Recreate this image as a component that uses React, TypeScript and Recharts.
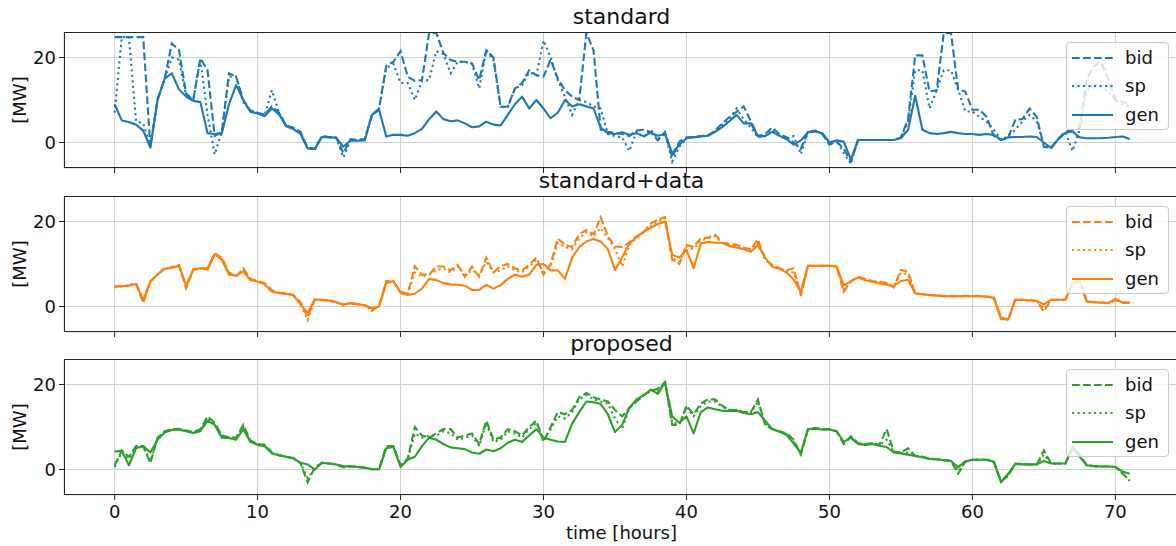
import { LineChart, Line, XAxis, YAxis, CartesianGrid } from 'recharts';

// time axis [hours], sampled every half hour
const hours = [
  0, 0.5, 1, 1.5, 2, 2.5, 3, 3.5, 4, 4.5, 5, 5.5, 6, 6.5, 7, 7.5, 8, 8.5, 9, 9.5,
  10, 10.5, 11, 11.5, 12, 12.5, 13, 13.5, 14, 14.5, 15, 15.5, 16, 16.5, 17, 17.5, 18, 18.5, 19, 19.5,
  20, 20.5, 21, 21.5, 22, 22.5, 23, 23.5, 24, 24.5, 25, 25.5, 26, 26.5, 27, 27.5, 28, 28.5, 29, 29.5,
  30, 30.5, 31, 31.5, 32, 32.5, 33, 33.5, 34, 34.5, 35, 35.5, 36, 36.5, 37, 37.5, 38, 38.5, 39, 39.5,
  40, 40.5, 41, 41.5, 42, 42.5, 43, 43.5, 44, 44.5, 45, 45.5, 46, 46.5, 47, 47.5, 48, 48.5, 49, 49.5,
  50, 50.5, 51, 51.5, 52, 52.5, 53, 53.5, 54, 54.5, 55, 55.5, 56, 56.5, 57, 57.5, 58, 58.5, 59, 59.5,
  60, 60.5, 61, 61.5, 62, 62.5, 63, 63.5, 64, 64.5, 65, 65.5, 66, 66.5, 67, 67.5, 68, 68.5, 69, 69.5,
  70, 70.5, 71,
];

// standard
const stdBid = [
  24.8, 24.8, 24.8, 24.8, 24.8, -1, 10, 15, 23.3, 21.8,
  11.5, 10, 19.8, 17, 1.5, 2.5, 16.3, 15.5, 10, 7.5,
  7, 6.5, 8.5, 7, 4, 3.5, 2.5, -1.2, -1.5, 1.5,
  1.3, 1.2, -2.5, 0.8, 0.6, 0.8, 6.5, 8, 18, 19,
  21.5, 15.5, 14.5, 14.7, 25.8, 25.8, 21, 19.4, 19, 19,
  18.6, 14.7, 21.7, 20, 8.4, 8.4, 12.7, 14, 17, 15.8,
  15.5, 19.5, 15, 12.3, 10.8, 10, 25.8, 21.7, 3, 2.5,
  2.2, 2, 1.5, 2.8, 3, 2.5, 0.5, 2.5, -3.5, 0.2,
  1.2, 1.3, 1.5, 1.7, 2.8, 4.5, 6, 7.2, 8.5, 5,
  1.5, 2, 3.5, 2, 1.2, 0, -1.5, 2.6, 2.8, 2,
  -0.5, 0.2, -1.5, -4.5, 0.6, 0.6, 0.6, 0.6, 0.6, 0.6,
  1.2, 5.5, 20.5, 20.5, 12, 12.3, 25.8, 25.8, 12.5, 12,
  7.7, 7.7, 6, 1.5, 0.6, 1.2, 5.3, 5.5, 8, 6,
  -1, -1.3, 0.8, 2.5, 3, 3.5, 15, 18, 19, 15,
  10, 9.6, 9,
];
const stdSp = [
  7, 24.8, 24.8, 5, 4.5, -1, 10, 15, 20, 19.5,
  11, 10, 19.5, 6.5, -2.8, 2.5, 15.5, 15.5, 9.5, 7.5,
  7, 6.5, 12.3, 7, 4, 3, 2.5, -1.5, -1.5, 1.5,
  1.3, 1, -3.5, 0.5, 0.6, 0.8, 6.5, 8, 17.5, 18.5,
  14, 14, 10, 14.5, 14.7, 21.5, 20.8, 16.3, 19, 19,
  18.5, 12.7, 21.7, 19.4, 8.4, 8.4, 12.7, 13.5, 16.5, 15.8,
  24, 20, 14.7, 10.8, 6.5, 10, 9.5, 8.5, 8, 2,
  1.5, 1.2, -2, 2.5, 1.2, 3, 0.8, 2.2, -4.5, -1,
  1, 1.3, 1.5, 1.6, 2.6, 4, 5.5, 8, 5.5, 3.5,
  1.2, 1.5, 3, 1.5, 1, 1.5, -2.8, 2.5, 2.7, 2.2,
  -0.3, 0.5, -2.5, -5, 0.6, 0.6, 0.6, 0.6, 0.6, 0.6,
  1.2, 5, 17, 17, 8, 12.3, 17, 17, 12.5, 7.3,
  7.3, 6, 4.9, 3, 0.6, 1.5, 3, 5, 6.5, 5,
  -0.5, -1.3, 0.8, 2.5, -2, 3, 12, 14, 13, 12,
  10, 9, 8.5,
];
const stdGen = [
  9, 5.2, 4.8, 4.2, 2.8, -1.2, 10, 15, 16.3, 12.5,
  10.8, 9.8, 9.5, 2.2, 2, 2.2, 9, 13.5, 10, 7.2,
  6.8, 6.2, 8, 6.6, 3.8, 3.2, 2, -1.4, -1.5, 1.3,
  1.2, 1.1, -1, 0.5, 0.4, 0.5, 6.5, 7.7, 1.4, 1.8,
  1.8, 1.6, 2.2, 3.2, 5.5, 7.3, 5.5, 5, 5.2, 4.5,
  3.6, 3.8, 4.9, 4.2, 4, 6.5, 9, 10.8, 8, 10,
  8, 5.7, 7, 10, 8.5, 9, 8.5, 8, 3.5, 2.2,
  2, 2.4, 1.8, 2.2, 1.5, 2.3, 1.6, 2, -2.5, -0.5,
  1, 1.2, 1.4, 1.6, 2.5, 3.6, 5, 6.5, 4.5, 4.5,
  1.5, 1.5, 2.5, 1.6, 0.8, -0.5, 0.5, 2.4, 2.6, 2.2,
  0, 0.5, 0.2, -4, 0.6, 0.6, 0.6, 0.6, 0.6, 0.6,
  1, 3, 11, 3, 2.2, 2, 2.2, 2.5, 2.2, 2,
  2, 1.8, 2, 1.8, 0.6, 1.2, 1.3, 1.3, 1.4, 1.3,
  0, -1.3, 0.8, 2.3, 2.6, 1.2, 1, 1, 1, 1.1,
  1.3, 1.4, 0.8,
];

// standard+data
const sdBid = [
  4.7, 4.8, 5, 5.5, 0.8, 5.9, 7.5, 9, 9.2, 9.8,
  4.3, 8.8, 9, 9, 12.5, 11.5, 8, 7, 9, 6.5,
  6, 5.5, 3.8, 3.2, 3, 2.7, 1, -2.5, 1.8, 1.5,
  1.4, 1, 0.5, 0.7, 0.5, 0.3, -1, 0.2, 6, 5.8,
  3.5, 3, 9.5, 7.5, 7.5, 9.4, 9.4, 8.5, 9.8, 7,
  9.4, 7, 11.5, 8, 9.5, 10, 9, 8.5, 9.8, 11.5,
  7.5, 10, 16, 14.5, 14, 17, 18, 17, 21, 16.5,
  14.1, 14, 15, 16.5, 17.5, 19.5, 20.5, 21, 11, 10,
  14.5, 14, 16, 16.2, 16.9, 15, 14.8, 14.5, 13.8, 13.5,
  15.8, 11, 9.8, 9, 8.5, 9, 2.5, 9.6, 9.6, 9.6,
  9.6, 9.4, 3.5, 6, 7, 6.5, 6, 5.8, 5.5, 4.5,
  8.6, 8.2, 3, 2.9, 2.7, 2.6, 2.4, 2.4, 2.4, 2.5,
  2.4, 2.5, 2.3, 2.2, -2.5, -3.2, 1.6, 1.6, 1.5, 1.3,
  -1.2, 1.6, 1.6, 1.6, 5, 6.3, 1.2, 1, 1, 0.8,
  1.5, 1, 0.9,
];
const sdSp = [
  4.5, 4.8, 4.9, 5.4, 1.2, 5.9, 7.5, 8.9, 9.2, 9.7,
  4.8, 8.7, 9, 8.8, 12.4, 11.3, 7.8, 7.2, 8.5, 6.3,
  5.9, 5.3, 3.6, 3.2, 3, 2.7, 0.5, -3.2, 1.6, 1.5,
  1.4, 1, 0.4, 0.8, 0.5, 0.3, -0.8, 0.1, 5.8, 6,
  3.3, 2.8, 8, 7, 7.5, 8.5, 9, 8, 9.5, 7.5,
  8.5, 7.5, 10.5, 8, 8.5, 9.5, 8.5, 8, 9.5, 11,
  8, 9.5, 15, 14, 13.5, 16, 17.5, 16.5, 18.5, 16,
  13.5, 9.4, 14.5, 16, 17.5, 19, 20, 21, 11.5, 10.5,
  14, 13.5, 15.5, 16, 16.5, 15, 14.5, 14.2, 13.6, 13.3,
  15, 11, 9.6, 9, 8.2, 8, 3, 9.6, 9.6, 9.6,
  9.6, 9.4, 4, 6, 6.9, 6.3, 5.9, 5.6, 5.3, 4.7,
  8, 7.5, 3, 2.9, 2.7, 2.6, 2.4, 2.4, 2.4, 2.4,
  2.4, 2.4, 2.3, 2.1, -2.8, -3, 1.6, 1.6, 1.4, 1.3,
  -0.5, 1.6, 1.6, 1.6, 5.2, 6.1, 1.2, 1, 0.9, 0.8,
  1.7, 0.9, 0.9,
];
const sdGen = [
  4.7, 4.8, 4.9, 5.3, 1.5, 5.9, 7.5, 8.9, 9.1, 9.6,
  5, 8.6, 9, 8.7, 12.3, 11, 7.5, 7.3, 8.2, 6.2,
  5.9, 5.2, 3.5, 3.2, 3, 2.7, 0.5, -1.5, 1.6, 1.6,
  1.4, 1, 0.4, 0.8, 0.6, 0.3, -0.4, 0, 5.5, 6,
  3.2, 2.7, 3, 4.2, 6.5, 6.2, 5.5, 5.2, 5.1, 4.9,
  3.9, 3.9, 5.1, 4.2, 5, 6.5, 7.5, 7, 7.5, 9.8,
  10, 8.5, 8.5, 6.5, 11.5, 14, 15.3, 15.9, 15.3, 13.5,
  8.6, 11.5, 14.8, 16.3, 17.6, 18.5, 19.4, 20, 12.2, 11.5,
  13.3, 9, 14.8, 15.2, 15, 15, 14.2, 13.9, 13.5, 12.9,
  14.5, 11.5, 9.3, 8.9, 8, 6.3, 3.5, 9.6, 9.6, 9.6,
  9.6, 9.4, 5, 5.9, 6.8, 6.2, 5.8, 5.5, 5.1, 4.8,
  6, 6.3, 3.1, 2.9, 2.7, 2.6, 2.4, 2.4, 2.4, 2.4,
  2.4, 2.4, 2.3, 2, -3, -3, 1.6, 1.6, 1.4, 1.3,
  0.5, 1.6, 1.6, 1.6, 5.5, 6, 1.2, 1, 0.9, 0.8,
  1.8, 0.9, 0.9,
];

// proposed
const prBid = [
  1, 4.5, 3, 5.5, 5.5, 1.5, 7.5, 9, 9.5, 9.6,
  9.2, 8.8, 9.5, 12.5, 11, 8, 7.6, 7.5, 10.5, 6.8,
  6, 5.8, 4, 3.4, 3, 2.7, 1.5, -3, 0.5, 1.5,
  1.4, 1.2, 0.5, 0.8, 0.6, 0.4, 0, 0.2, 5.5, 5.5,
  1, 2.5, 10, 8, 7.5, 8.5, 9.5, 9.5, 7.5, 8,
  8.5, 6, 11.5, 7, 7.5, 9.5, 9, 8, 10, 11.5,
  6.5, 10, 13.5, 13, 14, 17, 18, 17, 16.5, 16,
  14, 12.5, 14.5, 16, 17.5, 18.5, 19, 20.5, 10.5, 10.5,
  15, 13, 15.5, 16.5, 16.5, 15, 14, 14, 13.5, 13.5,
  16.5, 10.5, 9.5, 9, 8.5, 7, 3.5, 9.5, 9.8, 9.5,
  9.5, 9, 6, 7.8, 6.2, 6, 6.2, 5.8, 9.5, 4.2,
  4, 5, 3.2, 3, 2.6, 2.4, 2.2, 2, -1, 1.8,
  2.3, 2.3, 2.3, 1.8, -2.8, -1.5, 1.4, 1.3, 1.2, 1.2,
  4.5, 1.4, 1.4, 1.4, 5, 3.5, 1, 0.8, 0.7, 0.7,
  0.6, -1, -2.5,
];
const prSp = [
  0.6, 4, 2.5, 5.2, 5.6, 2, 7.2, 8.8, 9.4, 9.5,
  9, 8.7, 9.2, 12, 10.8, 7.8, 7.5, 7.2, 10, 6.6,
  5.9, 5.6, 3.9, 3.3, 3, 2.6, 1.5, -2, 0.2, 1.6,
  1.4, 1.2, 0.6, 0.8, 0.6, 0.4, 0.1, 0.1, 5.2, 5.4,
  0.8, 2.4, 8.5, 7.5, 8, 8, 9, 8.5, 7, 7.5,
  8, 5.5, 11, 6.5, 7, 9, 8.5, 7.5, 9.5, 11,
  7, 9.5, 12.5, 12, 13.5, 16.5, 17.5, 16.5, 16, 15.5,
  12, 9.5, 14.5, 16, 17.5, 18.5, 18.5, 20.5, 11, 10.8,
  14.5, 12.5, 15, 16, 16, 14.8, 14, 14, 13.5, 13.3,
  16, 10.8, 9.5, 9, 8.3, 6.5, 3.7, 9.5, 9.7, 9.4,
  9.4, 9, 6.2, 7.6, 6.1, 5.9, 6.1, 5.7, 7, 4.1,
  3.9, 4, 3.2, 3, 2.5, 2.4, 2.2, 2, -0.5, 1.9,
  2.3, 2.3, 2.3, 1.8, -2.9, -1.2, 1.3, 1.2, 1.2, 1.2,
  3.5, 1.4, 1.4, 1.4, 5.2, 3.2, 1, 0.8, 0.7, 0.7,
  0.6, -0.8, -2.7,
];
const prGen = [
  4.2, 4.4, 1, 5, 5.5, 4, 7, 8.7, 9.3, 9.4,
  9, 8.6, 9, 11.5, 10.5, 7.5, 7.4, 7, 9.5, 6.5,
  5.8, 5.5, 3.8, 3.3, 3, 2.6, 1.6, 1.2, 0, 1.6,
  1.4, 1.2, 0.8, 0.7, 0.6, 0.4, 0.1, 0, 5, 5.3,
  0.6, 2.3, 3, 5.5, 7.5, 7, 6, 5.2, 5, 4.8,
  4, 3.7, 4.7, 4.3, 5, 6.3, 7, 6.5, 8, 9.5,
  7.5, 7, 6.6, 6.5, 10.8, 13.5, 16, 15.8, 15.4, 13,
  8.8, 10.5, 14.5, 16.5, 17.4, 18.8, 17.8, 20.5, 12.5, 11,
  12.5, 8.5, 13.5, 14.6, 14.2, 13.8, 13.8, 13.8, 13.3, 13,
  13.5, 11.5, 9.5, 8.9, 8.1, 6.1, 3.9, 9.5, 9.6, 9.4,
  9.4, 9, 6.5, 7.5, 6, 5.8, 6, 5.6, 5.3, 4,
  3.8, 3.5, 3.2, 2.9, 2.5, 2.4, 2.2, 2, 0.5, 1.9,
  2.3, 2.3, 2.3, 1.8, -3, -1, 1.3, 1.2, 1.2, 1.2,
  2, 1.4, 1.4, 1.4, 5.3, 3, 1, 0.8, 0.7, 0.7,
  0.6, -0.5, -1,
];

const xTicks = [0, 10, 20, 30, 40, 50, 60, 70];
const yTicks = [0, 20];
const legendNames = ['bid', 'sp', 'gen'];

const FONT = '"DejaVu Sans", sans-serif';
const INK = '#262626';
const PLOT_LEFT = 64;
const PLOT_W = 1115;
const PLOT_H = 136;
const DASH: Record<string, string | undefined> = { bid: '7.7 3.3', sp: '2.1 3.4', gen: undefined };

const Legend = ({ color, top }: { color: string; top: number }) => (
  <div
    style={{
      position: 'absolute',
      left: 1066,
      top: top + 10,
      width: 103,
      height: 88,
      boxSizing: 'border-box',
      border: '1px solid #cccccc',
      borderRadius: 4,
      background: 'rgba(255,255,255,0.8)',
    }}
  >
    {legendNames.map((name, i) => (
      <div key={name} style={{ position: 'absolute', left: 0, top: 1 + i * 28.3, height: 28, width: 100 }}>
        <svg width={44} height={28} style={{ position: 'absolute', left: 4, top: 0 }}>
          <line x1={1} x2={42} y1={14} y2={14} stroke={color} strokeWidth={2.1} strokeDasharray={DASH[name]} />
        </svg>
        <span style={{ position: 'absolute', left: 58, top: 3, fontSize: 18, lineHeight: '22px', color: '#111' }}>
          {name}
        </span>
      </div>
    ))}
  </div>
);

type PanelProps = {
  title: string;
  color: string;
  bid: number[];
  sp: number[];
  gen: number[];
  top: number;
  last: boolean;
};

const Panel = ({ title, color, bid, sp, gen, top, last }: PanelProps) => {
  const data = hours.map((t, i) => ({ t, bid: bid[i], sp: sp[i], gen: gen[i] }));
  const axisH = last ? 40 : 6;
  return (
    <>
      <div
        style={{
          position: 'absolute',
          left: PLOT_LEFT,
          width: PLOT_W,
          top: top - 26,
          textAlign: 'center',
          fontSize: 22,
          lineHeight: '22px',
          color: '#111',
        }}
      >
        {title}
      </div>
      <div
        style={{
          position: 'absolute',
          left: 20,
          top: top + PLOT_H / 2,
          transform: 'translate(-50%, -50%) rotate(-90deg)',
          fontSize: 18,
          lineHeight: '20px',
          whiteSpace: 'nowrap',
          color: '#111',
        }}
      >
        [MW]
      </div>
      <LineChart
        width={PLOT_LEFT + PLOT_W + 6}
        height={PLOT_H + axisH}
        data={data}
        margin={{ top: 0, right: 6, left: 0, bottom: 0 }}
        style={{ position: 'absolute', left: 0, top }}
      >
        <CartesianGrid stroke="#d0d0d0" strokeWidth={1} />
        <XAxis
          dataKey="t"
          type="number"
          domain={[-3.54, 74.45]}
          ticks={xTicks}
          allowDataOverflow
          axisLine={false}
          tickLine={{ stroke: INK }}
          tickSize={5}
          tickMargin={5}
          height={axisH}
          tickFormatter={last ? undefined : () => ''}
          tick={{ fill: '#111', fontSize: 18, fontFamily: FONT }}
        />
        <YAxis
          type="number"
          domain={[-6, 26]}
          ticks={yTicks}
          allowDataOverflow
          width={PLOT_LEFT}
          axisLine={false}
          tickLine={{ stroke: INK }}
          tickSize={5}
          tickMargin={3}
          tick={{ fill: '#111', fontSize: 18, fontFamily: FONT }}
        />
        <Line
          type="linear"
          dataKey="bid"
          stroke={color}
          strokeWidth={2.1}
          strokeDasharray="7.7 3.3"
          dot={false}
          isAnimationActive={false}
        />
        <Line
          type="linear"
          dataKey="sp"
          stroke={color}
          strokeWidth={2.1}
          strokeDasharray="2.1 3.4"
          dot={false}
          isAnimationActive={false}
        />
        <Line
          type="linear"
          dataKey="gen"
          stroke={color}
          strokeWidth={2.1}
          strokeLinejoin="round"
          dot={false}
          isAnimationActive={false}
        />
      </LineChart>
      <div
        style={{
          position: 'absolute',
          left: PLOT_LEFT,
          top,
          width: PLOT_W,
          height: PLOT_H,
          boxSizing: 'border-box',
          border: `1px solid ${INK}`,
          pointerEvents: 'none',
        }}
      />
      <Legend color={color} top={top} />
    </>
  );
};

const App = () => {
  return (
    <div
      style={{
        position: 'absolute',
        left: 0,
        top: 0,
        width: 1176,
        height: 546,
        overflow: 'hidden',
        background: '#fff',
        fontFamily: FONT,
      }}
    >
      <Panel title="standard" color="#1f77b4" bid={stdBid} sp={stdSp} gen={stdGen} top={32} last={false} />
      <Panel title="standard+data" color="#ff7f0e" bid={sdBid} sp={sdSp} gen={sdGen} top={196} last={false} />
      <Panel title="proposed" color="#2ca02c" bid={prBid} sp={prSp} gen={prGen} top={359} last />
      <div
        style={{
          position: 'absolute',
          left: PLOT_LEFT,
          width: PLOT_W,
          top: 522,
          textAlign: 'center',
          fontSize: 18,
          lineHeight: '22px',
          color: '#111',
        }}
      >
        time [hours]
      </div>
    </div>
  );
};

export default App;
